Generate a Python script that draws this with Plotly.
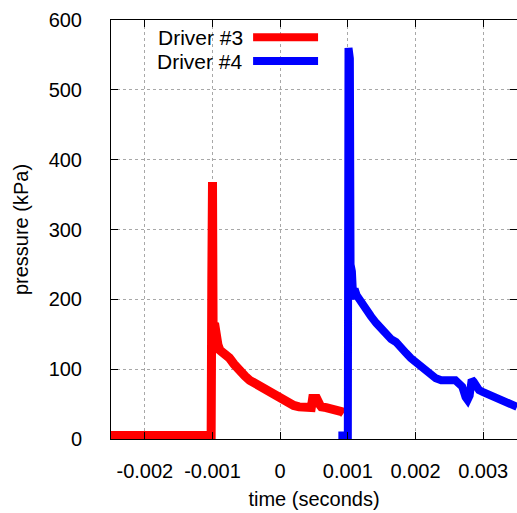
import plotly.graph_objects as go

# Driver #3 (red)
t3 = [-0.00255, -0.00102, -0.00101, -0.00100, -0.00099, -0.00097, -0.00095, -0.00092,
      -0.00089, -0.00082, -0.00075, -0.00068, -0.00060, -0.00052, -0.00045, -0.00038,
      -0.00031, -0.00023, -0.00016, -0.00008, -0.00001, 0.00006, 0.00013, 0.00020,
      0.00028, 0.00035, 0.00042, 0.00046, 0.00048, 0.00054, 0.00058, 0.00061,
      0.00068, 0.00076, 0.00084, 0.00091, 0.00094]
p3 = [5, 5, 230, 368, 130, 166, 138, 135,
      127, 122, 116, 107, 97, 90, 84, 80,
      76, 71, 66, 62, 59, 55, 51, 48,
      46, 45, 44, 45, 58, 58, 50, 46,
      45, 44, 41, 39, 37]

# Driver #4 (blue)
t4 = [0.00086, 0.00100, 0.00101, 0.00103, 0.00104, 0.00106, 0.00108, 0.00110,
      0.00113, 0.00120, 0.00127, 0.00134, 0.00142, 0.00150, 0.00157, 0.00164,
      0.00171, 0.00178, 0.00186, 0.00193, 0.00201, 0.00208, 0.00215, 0.00222,
      0.00230, 0.00238, 0.00245, 0.00252, 0.00259, 0.00264, 0.00269, 0.00274,
      0.00277, 0.00280, 0.00283, 0.00286, 0.00290, 0.00294, 0.00300, 0.00309,
      0.00316, 0.00324, 0.00331, 0.00338, 0.00345, 0.00350]
p4 = [5, 5, 560, 545, 250, 240, 200, 215,
      206, 195, 188, 176, 166, 156, 149, 143,
      139, 130, 123, 116, 109, 104, 99, 93,
      87, 84, 83, 84, 84, 80, 75, 60,
      56, 62, 85, 82, 74, 70, 67, 63,
      60, 56, 53, 51, 47, 46]

x_ticks = [-0.002, -0.001, 0, 0.001, 0.002, 0.003]
x_tick_labels = ["-0.002", "-0.001", "0", "0.001", "0.002", "0.003"]
y_ticks = [0, 100, 200, 300, 400, 500, 600]

series_names = ["Driver #3", "Driver #4"]
series_colors = ["#ff0000", "#0000ff"]

FONT = "Liberation Sans, Arial, sans-serif"

fig = go.Figure()
fig.add_trace(go.Scatter(x=t3, y=p3, mode="lines", name=series_names[0],
                         line=dict(color=series_colors[0], width=9), showlegend=False))
fig.add_trace(go.Scatter(x=t4, y=p4, mode="lines", name=series_names[1],
                         line=dict(color=series_colors[1], width=8), showlegend=False))

# legend drawn gnuplot-style (text on left, sample on right)
leg_y = [0.959, 0.902]
for name, color, yy in zip(series_names, series_colors, leg_y):
    fig.add_annotation(x=0.33, y=yy, xref="paper", yref="paper", text=name,
                       showarrow=False, xanchor="right", yanchor="middle",
                       font=dict(family=FONT, size=21, color="black"))
    fig.add_shape(type="line", xref="paper", yref="paper", x0=0.35, x1=0.51,
                  y0=yy, y1=yy, line=dict(color=color, width=8))

axis_common = dict(
    showline=True, linecolor="black", linewidth=1, mirror="ticks",
    ticks="inside", ticklen=7, tickcolor="black",
    showgrid=True, gridcolor="#a8a8a8", griddash="dot", gridwidth=1,
    zeroline=False, automargin=False,
    tickfont=dict(family=FONT, size=20, color="black"),
)

fig.update_xaxes(range=[-0.0025, 0.0035], tickvals=x_ticks, ticktext=x_tick_labels,
                 ticklabelstandoff=14,
                 title=dict(text="time (seconds)", font=dict(family=FONT, size=20, color="black"),
                            standoff=10),
                 **axis_common)
fig.update_yaxes(range=[0, 600], tickvals=y_ticks, ticklabelstandoff=24,
                 title=dict(text="pressure (kPa)", font=dict(family=FONT, size=20, color="black"),
                            standoff=14),
                 **axis_common)

fig.update_layout(
    width=517, height=513,
    margin=dict(l=111, r=0, t=20, b=74),
    plot_bgcolor="white", paper_bgcolor="white",
    font=dict(family=FONT, size=20, color="black"),
)

fig.write_html("out.html", config={"displayModeBar": False},
               post_script="document.body.style.margin='0';document.body.style.overflow='hidden';")
